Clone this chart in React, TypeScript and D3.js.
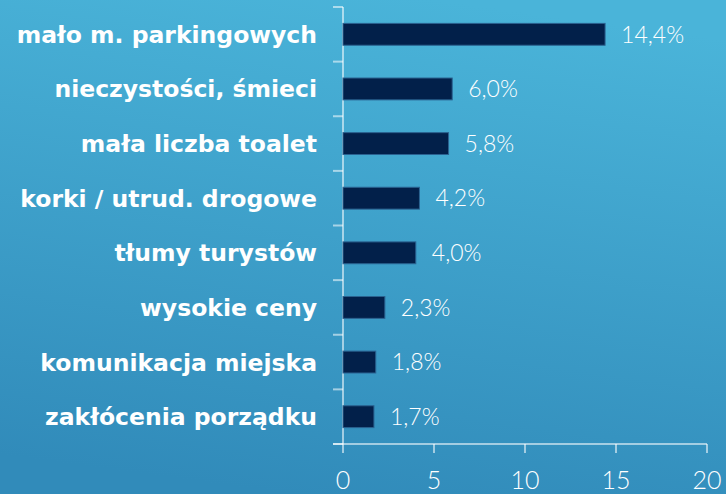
import * as d3 from 'd3';

const categories = [
  'mało m. parkingowych',
  'nieczystości, śmieci',
  'mała liczba toalet',
  'korki / utrud. drogowe',
  'tłumy turystów',
  'wysokie ceny',
  'komunikacja miejska',
  'zakłócenia porządku',
];
const values = [14.4, 6.0, 5.8, 4.2, 4.0, 2.3, 1.8, 1.7];
const xTicks = [0, 5, 10, 15, 20];

const W = 726;
const H = 494;
const left = 343;
const right = 707;
const top = 7;
const bottom = 444;

export default function App() {
  const x = d3.scaleLinear().domain([0, 20]).range([left, right]);
  const y = d3.scaleBand<string>()
    .domain(categories)
    .range([top, bottom])
    .paddingInner(0.6)
    .paddingOuter(0.3);
  const step = y.step();
  const axisColor = 'rgba(255,255,255,0.55)';
  const fmt = (v: number) => v.toFixed(1).replace('.', ',') + '%';

  return (
    <svg width={W} height={H} style={{ position: 'absolute', left: 0, top: 0 }}>
      <defs>
        <linearGradient id="bg" x1="0.6" y1="0" x2="0.4" y2="1">
          <stop offset="0%" stopColor="#4ab4d9" />
          <stop offset="100%" stopColor="#318bba" />
        </linearGradient>
      </defs>
      <rect width={W} height={H} fill="url(#bg)" />

      {/* y axis */}
      <line x1={left} x2={left} y1={top} y2={bottom} stroke={axisColor} strokeWidth={2} />
      {categories.map((c, i) => (
        <line key={c} x1={left - 10} x2={left}
          y1={top + step * (i + 1)} y2={top + step * (i + 1)}
          stroke={axisColor} strokeWidth={2} />
      ))}
      <line x1={left - 10} x2={left} y1={top} y2={top} stroke={axisColor} strokeWidth={2} />

      {/* x axis */}
      <line x1={left - 10} x2={right} y1={bottom} y2={bottom} stroke={axisColor} strokeWidth={2} />
      {xTicks.map(t => (
        <g key={t}>
          <line x1={x(t)} x2={x(t)} y1={bottom} y2={bottom + 9} stroke={axisColor} strokeWidth={2} />
          <text x={x(t)} y={489} textAnchor="middle" fill="#fff"
            fontFamily="Lato, sans-serif" fontWeight={300} fontSize={25}>{t}</text>
        </g>
      ))}

      {/* bars */}
      {categories.map((c, i) => {
        const yy = y(c)!;
        const bw = y.bandwidth();
        return (
          <g key={c}>
            <rect x={x(0)} y={yy} width={x(values[i]) - x(0)} height={bw}
              fill="#02204a" stroke="#2b6290" strokeWidth={1} />
            <text x={x(values[i]) + 16} y={yy + bw / 2} dy="0.36em" fill="#fff"
              fontFamily="Lato, sans-serif" fontWeight={300} fontSize={23}>{fmt(values[i])}</text>
            <text x={317} y={yy + bw / 2} dy="0.36em" textAnchor="end" fill="#fff"
              fontFamily="DejaVu Sans, sans-serif" fontWeight="bold" fontSize={23.5}>{c}</text>
          </g>
        );
      })}
    </svg>
  );
}
